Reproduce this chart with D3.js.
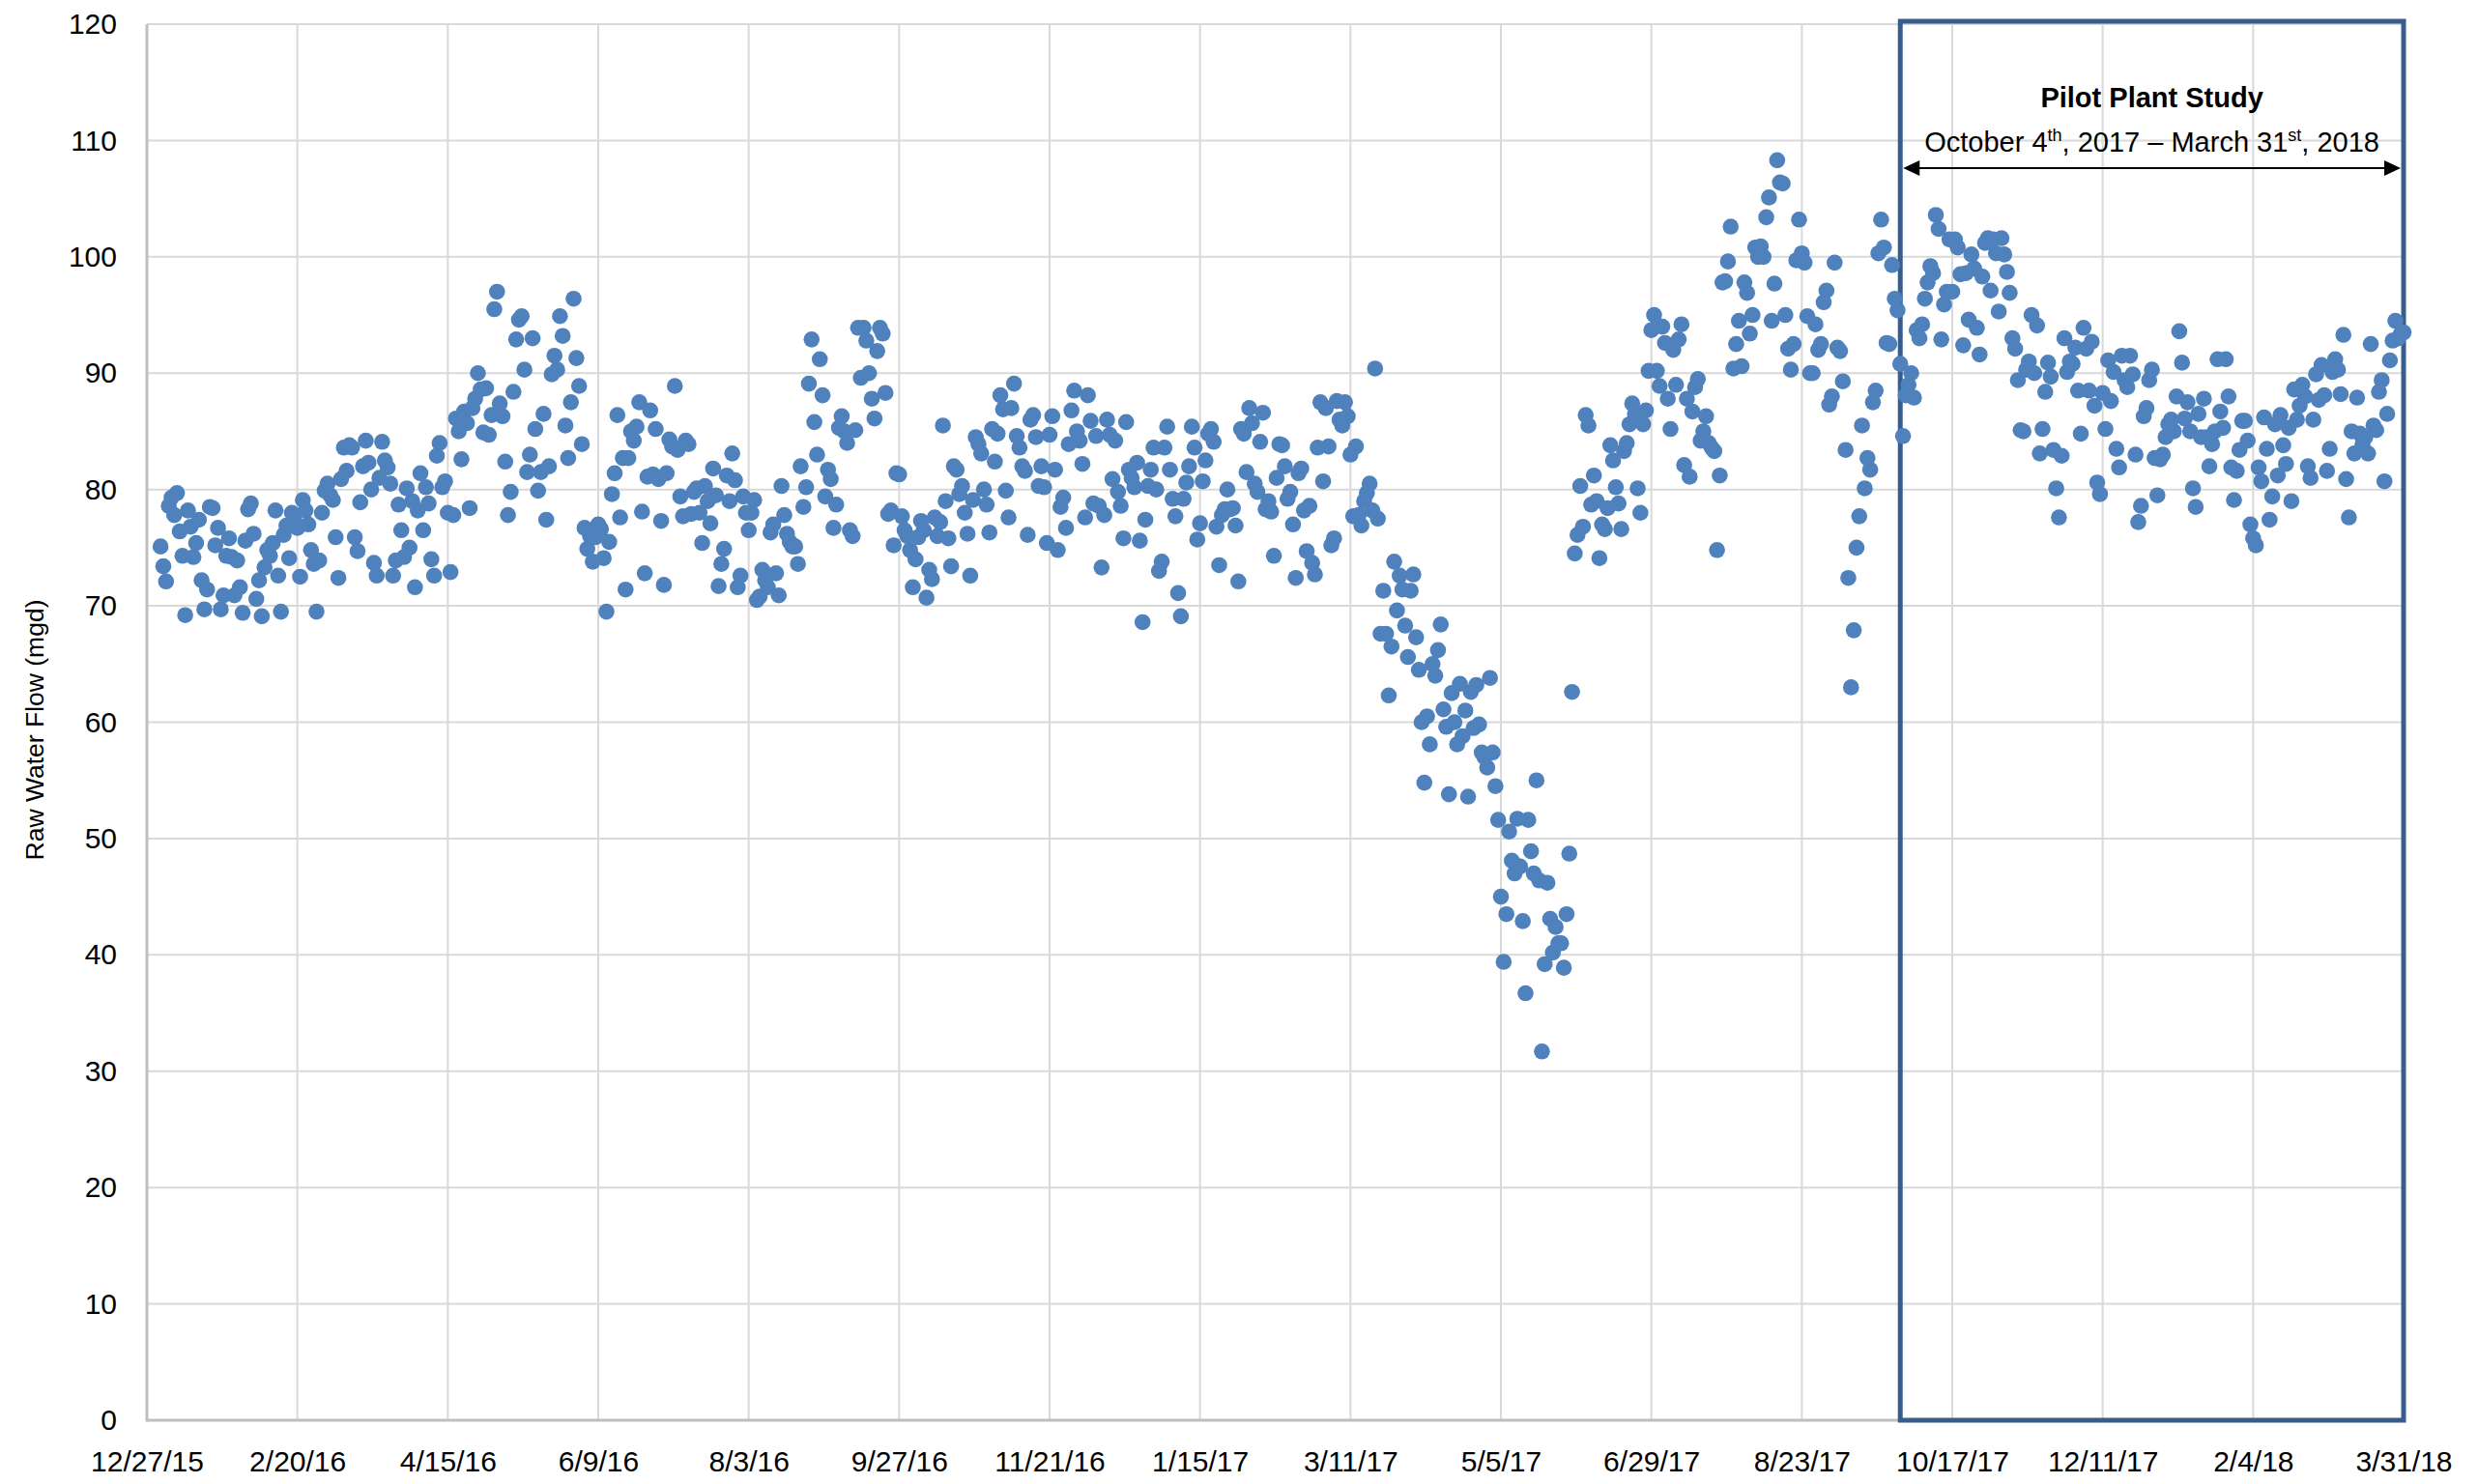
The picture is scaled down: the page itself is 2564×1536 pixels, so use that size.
<!DOCTYPE html>
<html>
<head>
<meta charset="utf-8">
<script src="https://cdn.jsdelivr.net/npm/d3@7"></script>
<style>
  body { margin: 0; background: #fff; }
  svg { display: block; font-family: 'Liberation Sans', Arial, sans-serif; }
</style>
</head>
<body>
<div id="chart"></div>
<script>
// daily raw water flow (mgd), one array per quarter, starting on the quarter's first day
const flowQ1_2016 = [75.1,73.4,72.1,78.6,79.3,77.8,79.7,76.4,74.3,69.2, 78.2,76.8,74.2,75.4,77.4,72.2,69.7,71.4,78.5,78.4,
  75.2,76.7,69.7,70.9,74.3,75.8,74.2,70.9,73.9,71.6, 69.4,75.6,78.3,78.8,76.2,70.6,72.2,69.1,73.3,74.8,
  74.3,75.4,78.2,72.6,69.5,76.1,76.9,74.1,78,77.3, 76.7,72.5,79.1,78.2,77,74.8,73.6,69.5,73.9,78,
  79.9,80.5,79.5,79.1,75.9,72.4,80.9,83.6,81.6,83.8, 83.6,75.9,74.7,78.9,82,84.2,82.3,80,73.7,72.6,
  81,84.1,82.5,81.9,80.5,72.6,73.9,78.7,76.5,74.2, 80.1]
const flowQ2_2016 = [75,79,71.6,78.2,81.4,76.5,80.2,78.8,74,72.6, 82.9,84,80.2,80.7,78,72.9,77.8,86.1,85,82.6,
  86.7,85.7,78.4,87,87.8,90,88.6,84.9,88.7,84.7, 86.4,95.5,97,87.4,86.3,82.4,77.8,79.8,88.4,92.9,
  94.6,94.9,90.3,81.5,83,93,85.2,79.9,81.5,86.5, 77.4,82,89.9,91.5,90.3,94.9,93.2,85.5,82.7,87.5,
  96.4,91.3,88.9,83.9,76.7,74.9,76,73.8,75.9,77, 76.6,74.1,69.5,75.5,79.6,81.4,86.4,77.6,82.7,71.4,
  82.7,85,84.2,85.4,87.5,78.1,72.8,81.1,86.8,81.3, 85.2]
const flowQ3_2016 = [80.9,77.3,71.8,81.4,84.3,83.7,88.9,83.4,79.4,77.7, 84.2,83.9,77.9,79.8,80.1,78,75.4,80.3,79,77.1,
  81.8,79.5,71.7,73.6,74.9,81.2,79,83.1,80.8,71.6, 72.6,79.4,78,76.5,78,79.1,70.5,70.8,73.1,72.2,
  71.6,76.3,77,72.8,70.9,80.3,77.8,76.2,75.5,75.1, 75.1,73.6,82,78.5,80.2,89.1,92.9,85.8,83,91.2,
  88.1,79.4,81.7,80.9,76.7,78.7,85.3,86.3,85,84, 76.5,76,85.1,93.9,89.6,93.9,92.8,90,87.8,86.1,
  91.9,93.9,93.4,88.3,77.9,78.2,75.2,81.4,81.3,77.7, 76.5,76]
const flowQ4_2016 = [74.8,71.6,74,75.9,77.3,76.5,70.7,73.1,72.3,77.6, 76,77.2,85.5,79,75.8,73.4,82,81.7,79.6,80.3,
  78,76.2,72.6,79.1,84.5,83.9,83.1,80,78.7,76.3, 85.2,82.4,84.8,88.1,86.9,79.9,77.6,87,89.1,84.6,
  83.6,82,81.6,76.1,86,86.4,84.5,80.3,82,80.2, 75.4,84.7,86.3,81.7,74.8,78.5,79.3,76.7,83.9,86.8,
  88.5,85,84.2,82.2,77.6,88.1,85.9,78.8,84.6,78.6, 73.3,77.8,86,84.7,80.9,84.2,79.8,78.6,75.8,85.8,
  81.7,81,80.2,82.3,75.6,68.6,77.4,80.3,81.7,83.6, 80,73]
const flowQ1_2017 = [73.8,83.6,85.4,81.7,79.2,77.7,71.1,69.1,79.2,80.6, 82,85.4,83.6,75.7,77.1,80.7,82.5,84.8,85.2,84.1,
  76.8,73.5,77.8,78.3,80,78.3,78.4,76.9,72.1,85.2, 84.8,81.5,87,85.7,80.5,79.8,84.1,86.6,78.3,79,
  78.1,74.3,81,83.9,83.8,82,79.2,79.8,77,72.4, 81.4,81.8,78.2,74.7,78.6,73.7,72.7,83.6,87.5,80.7,
  87,83.7,75.2,75.8,87.6,86,85.5,87.5,86.3,83, 77.7,83.7,77.8,76.9,79,79.7,80.5,78.2,90.4,77.5,
  67.6,71.3,67.6,62.3,66.5,73.8,69.6,72.6,71.4,68.3]
const flowQ2_2017 = [65.6,71.3,72.7,67.3,64.5,60,54.8,60.5,58.1,65, 64,66.2,68.4,61.1,59.6,53.8,62.5,60,58.1,63.3,
  58.8,61,53.6,62.6,59.5,63.2,59.8,57.4,57,56.1, 63.8,57.4,54.5,51.6,45,39.4,43.5,50.6,48.1,47,
  51.7,47.6,42.9,36.7,51.6,48.9,47,55,46.4,31.7, 39.2,46.2,43.1,40.2,42.4,41,41,38.9,43.5,48.7,
  62.6,74.5,76.1,80.3,76.8,86.4,85.5,78.7,81.2,79, 74.1,77,76.6,78.4,83.8,82.5,80.2,78.8,76.6,83.3,
  84,85.6,87.4,86.5,80.1,78,85.6,86.8,90.2,93.7, 95]
const flowQ3_2017 = [90.2,88.9,94,92.6,87.8,85.2,92,89,92.9,94.2, 82.1,87.8,81.1,86.7,88.8,89.5,84.2,85,86.3,84,
  83.6,83.3,74.8,81.2,97.8,97.9,99.6,102.6,90.4,92.5, 94.5,90.6,97.8,96.9,93.4,95,100.8,100,100.9,100,
  103.4,105.1,94.5,97.7,108.3,106.4,106.3,95,92.1,90.3, 92.5,99.7,103.2,100.3,99.5,94.9,90,90,94.2,92,
  92.5,96.1,97.1,87.3,88,99.5,92.2,91.9,89.3,83.4, 72.4,63,67.9,75,77.7,85.5,80.1,82.7,81.7,87.5,
  88.5,100.3,103.2,100.8,92.6,92.5,99.3,96.4,95.4,90.8, 84.6,88.1]
const flowQ4_2017 = [89,90,87.9,93.7,93,94.2,96.4,97.8,99.2,98.6, 103.6,102.4,92.9,95.9,97,101.5,97,101.5,100.8,98.5,
  92.4,98.6,94.6,100.2,99,93.9,91.6,98.3,101.2,101.6, 97.1,101.5,100.3,95.3,101.6,100.2,98.7,96.9,93,92.1,
  89.4,85.1,85,90.3,91,95,90,94.1,83.1,85.2, 88.4,90.9,89.7,83.4,80.1,77.6,82.9,93,90.1,91,
  90.8,92.2,88.5,84.8,93.9,92.1,88.5,92.7,87.2,80.6, 79.6,88.3,85.2,91.1,87.6,90.1,83.5,81.9,91.5,89.4,
  88.8,91.5,89.9,83,77.2,78.6,86.3,87,89.4,90.3, 82.7,79.5]
const flowQ1_2018 = [82.6,83,84.5,85.6,86,85,88,93.6,90.9,86.1, 87.5,85,80.1,78.5,86.5,84.5,87.8,84.5,82,83.9,
  85,91.2,86.7,85.3,91.2,88,81.9,79.1,81.6,83.4, 85.9,85.9,84.2,77,75.8,75.2,81.9,80.7,86.2,83.5,
  77.4,79.4,85.6,81.2,86.4,83.8,82.2,85.3,79,88.6, 86,87.2,89,88,82,81,86,89.9,87.7,90.7,
  88.1,81.6,83.5,90.1,91.2,90.3,88.2,93.3,80.9,77.6, 85,83.1,87.9,84.8,83.9,84.5,83.1,92.5,85.5,85.1,
  88.4,89.4,80.7,86.5,91.1,92.8,94.5,93,93.4,93.5]

const quarterStarts = ['2016-01-01','2016-04-01','2016-07-01','2016-10-01','2017-01-01',
  '2017-04-01','2017-07-01','2017-10-01','2018-01-01']
const quarterFlows = [flowQ1_2016, flowQ2_2016, flowQ3_2016, flowQ4_2016, flowQ1_2017,
  flowQ2_2017, flowQ3_2017, flowQ4_2017, flowQ1_2018]

const tickDates = ['2015-12-27','2016-02-20','2016-04-15','2016-06-09','2016-08-03','2016-09-27',
  '2016-11-21','2017-01-15','2017-03-11','2017-05-05','2017-06-29','2017-08-23','2017-10-17',
  '2017-12-11','2018-02-04','2018-03-31']
const yTicks = [0,10,20,30,40,50,60,70,80,90,100,110,120]

// pilot box edges as placed in the original figure
const pilotStart = '2017-09-28'
const pilotEnd = '2018-03-31'

function draw() {
  const width = 2564
  const height = 1536
  const margin = {top: 25, right: 77, bottom: 66, left: 152}
  const parse = d3.utcParse('%Y-%m-%d')
  const fmt = d3.utcFormat('%-m/%-d/%y')

  const data = []
  quarterStarts.forEach((s, q) => {
    const start = parse(s)
    quarterFlows[q].forEach((v, i) => {
      data.push({date: d3.utcDay.offset(start, i), flow: v})
    })
  })

  const x = d3.scaleUtc()
    .domain([parse(tickDates[0]), parse(tickDates[tickDates.length - 1])])
    .range([margin.left, width - margin.right])

  const y = d3.scaleLinear()
    .domain([0, 120])
    .range([height - margin.bottom, margin.top])

  const svg = d3.select('#chart')
    .append('svg')
    .attr('width', width)
    .attr('height', height)

  // gridlines
  svg.append('g')
    .selectAll('line')
    .data(yTicks.slice(1))
    .join('line')
    .attr('x1', margin.left)
    .attr('x2', width - margin.right)
    .attr('y1', d => y(d))
    .attr('y2', d => y(d))
    .attr('stroke', '#d9d9d9')
    .attr('stroke-width', 2)

  svg.append('g')
    .selectAll('line')
    .data(tickDates.slice(1))
    .join('line')
    .attr('x1', d => x(parse(d)))
    .attr('x2', d => x(parse(d)))
    .attr('y1', y(0))
    .attr('y2', y(120))
    .attr('stroke', '#d9d9d9')
    .attr('stroke-width', 2)

  // axis lines
  svg.append('line')
    .attr('x1', margin.left).attr('x2', width - margin.right)
    .attr('y1', y(0)).attr('y2', y(0))
    .attr('stroke', '#bfbfbf').attr('stroke-width', 3)
  svg.append('line')
    .attr('x1', margin.left).attr('x2', margin.left)
    .attr('y1', y(0) + 1.5).attr('y2', y(120))
    .attr('stroke', '#bfbfbf').attr('stroke-width', 3)

  // tick labels
  const xAxis = svg.append('g')
    .attr('transform', `translate(0,${y(0)})`)
    .call(d3.axisBottom(x)
      .tickValues(tickDates.map(parse))
      .tickFormat(fmt)
      .tickSize(0)
      .tickPadding(32))
  xAxis.select('.domain').remove()
  xAxis.selectAll('text')
    .attr('font-size', 30)
    .attr('font-family', "'Liberation Sans', Arial, sans-serif")
    .attr('fill', '#000')

  const yAxis = svg.append('g')
    .attr('transform', `translate(${margin.left},0)`)
    .call(d3.axisLeft(y)
      .tickValues(yTicks)
      .tickSize(0)
      .tickPadding(31))
  yAxis.select('.domain').remove()
  yAxis.selectAll('text')
    .attr('font-size', 30)
    .attr('font-family', "'Liberation Sans', Arial, sans-serif")
    .attr('fill', '#000')

  svg.append('text')
    .attr('transform', `translate(36,${(y(0) + y(120)) / 2 + 8}) rotate(-90)`)
    .attr('text-anchor', 'middle')
    .attr('dominant-baseline', 'central')
    .attr('font-size', 26.5)
    .attr('fill', '#000')
    .text('Raw Water Flow (mgd)')

  // pilot study box
  const bx0 = x(parse(pilotStart))
  const bx1 = x(parse(pilotEnd))
  svg.append('rect')
    .attr('x', bx0)
    .attr('y', y(120) - 3)
    .attr('width', bx1 - bx0)
    .attr('height', y(0) - y(120) + 3)
    .attr('fill', 'none')
    .attr('stroke', '#385d8a')
    .attr('stroke-width', 5)

  // points
  svg.append('g')
    .selectAll('circle')
    .data(data)
    .join('circle')
    .attr('cx', d => x(d.date))
    .attr('cy', d => y(d.flow))
    .attr('r', 8.3)
    .attr('fill', '#4f81bd')

  // double arrow + annotation
  const ay = 174
  const ax0 = bx0 + 3
  const ax1 = bx1 - 3
  svg.append('line')
    .attr('x1', ax0 + 10).attr('x2', ax1 - 10)
    .attr('y1', ay).attr('y2', ay)
    .attr('stroke', '#000').attr('stroke-width', 2)
  svg.append('path')
    .attr('d', `M${ax0},${ay} L${ax0 + 17},${ay - 8} L${ax0 + 17},${ay + 8} Z`)
    .attr('fill', '#000')
  svg.append('path')
    .attr('d', `M${ax1},${ay} L${ax1 - 17},${ay - 8} L${ax1 - 17},${ay + 8} Z`)
    .attr('fill', '#000')

  const cx = (bx0 + bx1) / 2
  svg.append('text')
    .attr('x', cx)
    .attr('y', 111)
    .attr('text-anchor', 'middle')
    .attr('font-size', 29)
    .attr('font-weight', 'bold')
    .attr('fill', '#000')
    .text('Pilot Plant Study')

  const sub = svg.append('text')
    .attr('x', cx)
    .attr('y', 157)
    .attr('text-anchor', 'middle')
    .attr('font-size', 29)
    .attr('fill', '#000')
  sub.append('tspan').text('October 4')
  sub.append('tspan').attr('font-size', 18).attr('dy', -11).text('th')
  sub.append('tspan').attr('dy', 11).text(', 2017 \u2013 March 31')
  sub.append('tspan').attr('font-size', 18).attr('dy', -11).text('st')
  sub.append('tspan').attr('dy', 11).text(', 2018')
}

draw()
</script>
</body>
</html>
